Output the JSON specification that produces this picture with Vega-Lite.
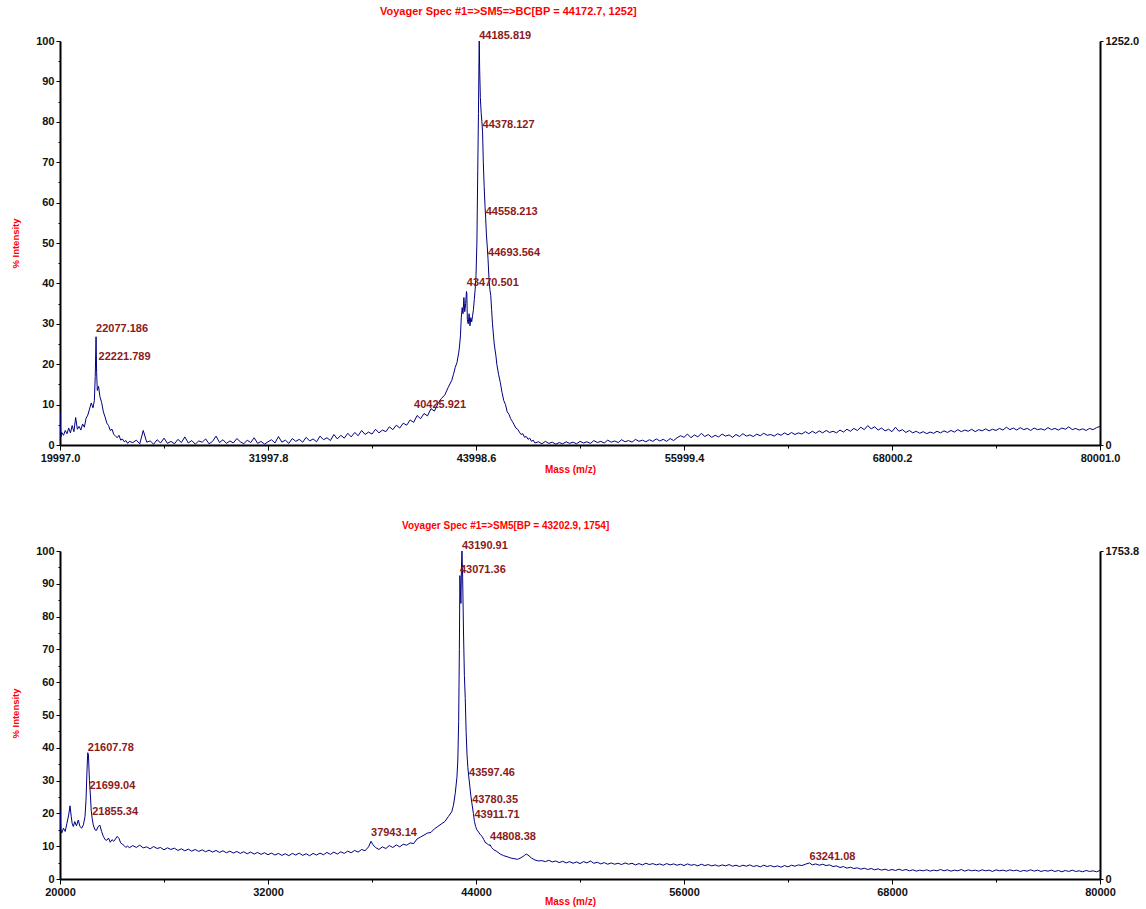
{
"$schema": "https://vega.github.io/schema/vega-lite/v6.json",
"background": "white",
"padding": {"left": 10, "top": 6, "right": 5, "bottom": 5},
"spacing": 47,
"config": {
  "view": {"stroke": null},
  "font": "Liberation Sans",
  "axis": {"domainColor": "#000000", "domainWidth": 2, "tickColor": "#000000", "tickWidth": 1, "labelColor": "#111111", "labelFont": "Liberation Sans", "labelFontSize": 11, "labelFontWeight": "bold", "labelPadding": 2, "labelFlush": false, "labelOverlap": false, "titleFont": "Liberation Sans", "titleFontWeight": "bold", "titleColor": "#ff0000", "titleFontSize": 10, "grid": false}
},
"datasets": {
"top": [
{"m":19997,"i":8.0},{"m":20050,"i":2.0},{"m":20100,"i":3.1},{"m":20200,"i":2.4},{"m":20300,"i":3.6},{"m":20400,"i":2.8},{"m":20500,"i":4.2},{"m":20600,"i":3.0},{"m":20700,"i":4.8},{"m":20800,"i":3.3},{"m":20900,"i":6.8},{"m":21000,"i":3.9},{"m":21100,"i":4.6},{"m":21200,"i":3.7},{"m":21300,"i":5.2},{"m":21400,"i":4.4},{"m":21500,"i":6.6},{"m":21600,"i":7.4},{"m":21700,"i":8.9},{"m":21800,"i":10.4},{"m":21900,"i":9.2},{"m":21980,"i":11.0},{"m":22030,"i":17.0},{"m":22077,"i":26.8},{"m":22110,"i":18.0},{"m":22150,"i":13.5},{"m":22221,"i":14.5},{"m":22300,"i":12.0},{"m":22400,"i":10.5},{"m":22500,"i":8.2},{"m":22600,"i":6.9},{"m":22700,"i":5.4},{"m":22800,"i":4.8},{"m":22900,"i":3.6},{"m":23000,"i":3.9},{"m":23100,"i":2.6},{"m":23200,"i":2.2},{"m":23300,"i":1.8},{"m":23400,"i":2.4},{"m":23500,"i":1.2},{"m":23600,"i":1.5},{"m":23700,"i":0.8},{"m":23800,"i":1.1},{"m":23900,"i":0.4},{"m":24000,"i":0.9},
{"m":24200,"i":0.6},{"m":24400,"i":1.2},{"m":24600,"i":0.3},{"m":24800,"i":3.6},{"m":25000,"i":0.7},{"m":25200,"i":1.0},{"m":25400,"i":0.2},{"m":25600,"i":1.3},{"m":25800,"i":0.5},{"m":26000,"i":1.7},{"m":26200,"i":0.4},{"m":26400,"i":0.9},{"m":26600,"i":0.3},{"m":26800,"i":1.4},{"m":27000,"i":0.6},{"m":27200,"i":2.0},{"m":27400,"i":0.5},{"m":27600,"i":1.1},{"m":27800,"i":0.2},{"m":28000,"i":1.0},{"m":28200,"i":0.7},{"m":28400,"i":1.5},{"m":28600,"i":0.3},{"m":28800,"i":0.9},{"m":29000,"i":2.2},{"m":29200,"i":0.6},{"m":29400,"i":1.3},{"m":29600,"i":0.4},{"m":29800,"i":1.0},{"m":30000,"i":0.5},{"m":30200,"i":1.6},{"m":30400,"i":0.8},{"m":30600,"i":0.3},{"m":30800,"i":1.2},{"m":31000,"i":0.6},{"m":31200,"i":1.8},{"m":31400,"i":0.4},{"m":31600,"i":0.9},{"m":31800,"i":0.2},{"m":32000,"i":0.8},{"m":32200,"i":1.3},{"m":32400,"i":0.5},{"m":32600,"i":2.1},{"m":32800,"i":0.7},{"m":33000,"i":1.2},{"m":33200,"i":0.4},{"m":33400,"i":1.6},{"m":33600,"i":0.9},{"m":33800,"i":1.4},{"m":34000,"i":0.7},{"m":34200,"i":1.9},{"m":34400,"i":1.0},{"m":34600,"i":1.5},{"m":34800,"i":0.8},{"m":35000,"i":2.2},{"m":35200,"i":1.3},{"m":35400,"i":1.8},{"m":35600,"i":1.1},{"m":35800,"i":2.6},{"m":36000,"i":1.5},
{"m":36200,"i":2.4},{"m":36400,"i":1.7},{"m":36600,"i":2.9},{"m":36800,"i":2.0},{"m":37000,"i":3.1},{"m":37200,"i":2.3},{"m":37400,"i":3.6},{"m":37600,"i":2.6},{"m":37800,"i":3.2},{"m":38000,"i":2.7},{"m":38200,"i":3.9},{"m":38400,"i":3.0},{"m":38600,"i":3.7},{"m":38800,"i":3.3},{"m":39000,"i":4.5},{"m":39200,"i":3.8},{"m":39400,"i":4.9},{"m":39600,"i":4.2},{"m":39800,"i":5.4},{"m":40000,"i":4.9},{"m":40200,"i":6.2},{"m":40400,"i":5.6},{"m":40600,"i":7.3},{"m":40800,"i":6.5},{"m":41000,"i":7.8},{"m":41200,"i":7.2},{"m":41400,"i":9.0},{"m":41600,"i":8.4},{"m":41800,"i":10.2},{"m":42000,"i":11.5},{"m":42200,"i":12.4},{"m":42400,"i":14.3},{"m":42600,"i":16.0},{"m":42700,"i":17.5},{"m":42800,"i":19.2},{"m":42900,"i":20.4},{"m":43000,"i":22.8},{"m":43050,"i":24.5},{"m":43100,"i":27.0},{"m":43150,"i":31.5},{"m":43200,"i":34.0},{"m":43250,"i":32.5},{"m":43300,"i":36.5},{"m":43350,"i":33.0},{"m":43400,"i":35.0},{"m":43450,"i":38.0},{"m":43470,"i":37.5},{"m":43500,"i":31.0},{"m":43550,"i":30.0},{"m":43600,"i":32.5},{"m":43650,"i":29.5},{"m":43700,"i":31.5},{"m":43750,"i":30.5},{"m":43800,"i":32.0},{"m":43850,"i":33.5},{"m":43900,"i":36.0},{"m":43950,"i":38.5},{"m":44000,"i":42.0},{"m":44050,"i":50.0},{"m":44100,"i":68.0},{"m":44140,"i":82.0},{"m":44170,"i":95.0},{"m":44186,"i":100.0},{"m":44210,"i":93.0},{"m":44250,"i":86.0},{"m":44300,"i":82.0},{"m":44340,"i":80.0},{"m":44378,"i":77.5},{"m":44420,"i":70.0},{"m":44470,"i":64.0},{"m":44520,"i":59.0},{"m":44558,"i":56.0},{"m":44600,"i":52.0},{"m":44650,"i":49.0},{"m":44693,"i":46.0},{"m":44750,"i":41.0},{"m":44800,"i":38.5},{"m":44850,"i":37.0},{"m":44900,"i":33.5},{"m":44950,"i":30.0},{"m":45000,"i":27.5},{"m":45050,"i":25.0},{"m":45100,"i":23.5},{"m":45150,"i":22.0},{"m":45200,"i":20.0},{"m":45300,"i":17.5},{"m":45400,"i":15.5},{"m":45500,"i":13.0},{"m":45600,"i":11.0},{"m":45700,"i":10.0},{"m":45800,"i":8.2},{"m":45900,"i":7.6},{"m":46000,"i":6.5},{"m":46100,"i":5.8},{"m":46200,"i":5.0},{"m":46300,"i":4.2},{"m":46400,"i":3.9},{"m":46500,"i":3.2},{"m":46600,"i":2.6},{"m":46700,"i":2.8},{"m":46800,"i":1.9},{"m":46900,"i":2.1},{"m":47000,"i":1.4},{"m":47100,"i":1.7},{"m":47200,"i":0.9},{"m":47300,"i":1.2},{"m":47400,"i":0.5},
{"m":47600,"i":0.8},{"m":47800,"i":0.3},{"m":48000,"i":0.9},{"m":48200,"i":0.4},{"m":48400,"i":0.7},{"m":48600,"i":0.2},{"m":48800,"i":0.6},{"m":49000,"i":0.3},{"m":49200,"i":0.8},{"m":49400,"i":0.4},{"m":49600,"i":0.7},{"m":49800,"i":0.3},{"m":50000,"i":0.9},{"m":50200,"i":0.5},{"m":50400,"i":0.8},{"m":50600,"i":0.4},{"m":50800,"i":1.1},{"m":51000,"i":0.6},{"m":51200,"i":0.9},{"m":51400,"i":0.5},{"m":51600,"i":1.2},{"m":51800,"i":0.7},{"m":52000,"i":1.0},{"m":52200,"i":0.6},{"m":52400,"i":1.3},{"m":52600,"i":0.8},{"m":52800,"i":1.1},{"m":53000,"i":0.7},{"m":53200,"i":1.4},{"m":53400,"i":0.9},{"m":53600,"i":1.2},{"m":53800,"i":0.8},{"m":54000,"i":1.3},{"m":54200,"i":0.9},{"m":54400,"i":1.5},{"m":54600,"i":1.0},{"m":54800,"i":1.4},{"m":55000,"i":0.9},{"m":55200,"i":1.6},{"m":55400,"i":1.1},{"m":55600,"i":1.8},{"m":55800,"i":2.3},{"m":56000,"i":1.9},{"m":56200,"i":2.7},{"m":56400,"i":1.8},{"m":56600,"i":2.5},{"m":56800,"i":2.0},{"m":57000,"i":2.9},{"m":57200,"i":2.1},{"m":57400,"i":2.6},{"m":57600,"i":1.9},{"m":57800,"i":2.4},{"m":58000,"i":2.0},{"m":58200,"i":2.7},{"m":58400,"i":2.2},{"m":58600,"i":2.5},{"m":58800,"i":1.9},{"m":59000,"i":2.6},{"m":59200,"i":2.1},{"m":59400,"i":2.8},{"m":59600,"i":2.2},{"m":59800,"i":2.5},{"m":60000,"i":2.1},{"m":60200,"i":2.7},{"m":60400,"i":2.3},{"m":60600,"i":2.9},{"m":60800,"i":2.4},{"m":61000,"i":2.6},{"m":61200,"i":2.2},{"m":61400,"i":2.8},{"m":61600,"i":2.4},{"m":61800,"i":3.0},{"m":62000,"i":2.5},{"m":62200,"i":3.1},{"m":62400,"i":2.6},{"m":62600,"i":3.0},{"m":62800,"i":2.7},{"m":63000,"i":3.3},{"m":63200,"i":2.8},{"m":63400,"i":3.4},{"m":63600,"i":2.9},{"m":63800,"i":3.5},{"m":64000,"i":3.0},{"m":64200,"i":3.6},{"m":64400,"i":3.1},{"m":64600,"i":3.4},{"m":64800,"i":3.0},{"m":65000,"i":3.7},{"m":65200,"i":3.2},{"m":65400,"i":3.9},{"m":65600,"i":3.4},{"m":65800,"i":4.1},{"m":66000,"i":3.6},{"m":66200,"i":4.4},{"m":66400,"i":3.8},{"m":66600,"i":4.8},{"m":66800,"i":4.0},{"m":67000,"i":4.5},{"m":67200,"i":3.7},{"m":67400,"i":4.2},{"m":67600,"i":3.5},{"m":67800,"i":3.9},{"m":68000,"i":3.3},{"m":68200,"i":4.4},{"m":68400,"i":3.4},{"m":68600,"i":3.8},{"m":68800,"i":3.1},{"m":69000,"i":3.6},{"m":69200,"i":3.0},{"m":69400,"i":3.4},{"m":69600,"i":2.9},{"m":69800,"i":3.3},{"m":70000,"i":2.8},{"m":70200,"i":3.2},{"m":70400,"i":2.9},{"m":70600,"i":3.4},{"m":70800,"i":3.0},{"m":71000,"i":3.5},{"m":71200,"i":3.1},{"m":71400,"i":3.6},{"m":71600,"i":3.2},{"m":71800,"i":3.8},{"m":72000,"i":3.3},{"m":72200,"i":3.7},{"m":72400,"i":3.4},{"m":72600,"i":3.9},{"m":72800,"i":3.3},{"m":73000,"i":3.8},{"m":73200,"i":3.5},{"m":73400,"i":4.0},{"m":73600,"i":3.5},{"m":73800,"i":3.9},{"m":74000,"i":3.6},{"m":74200,"i":4.1},{"m":74400,"i":3.7},{"m":74600,"i":4.4},{"m":74800,"i":3.8},{"m":75000,"i":4.2},{"m":75200,"i":3.7},{"m":75400,"i":4.3},{"m":75600,"i":3.8},{"m":75800,"i":4.1},{"m":76000,"i":3.6},{"m":76200,"i":4.2},{"m":76400,"i":3.8},{"m":76600,"i":4.0},{"m":76800,"i":3.7},{"m":77000,"i":4.3},{"m":77200,"i":3.8},{"m":77400,"i":4.1},{"m":77600,"i":3.7},{"m":77800,"i":4.2},{"m":78000,"i":3.9},{"m":78200,"i":4.5},{"m":78400,"i":3.8},{"m":78600,"i":4.1},{"m":78800,"i":3.7},{"m":79000,"i":4.0},{"m":79200,"i":3.6},{"m":79400,"i":4.1},{"m":79600,"i":3.8},{"m":79800,"i":4.3},{"m":80001,"i":4.6}
],
"topLabels": [
{"m":44185.819,"i":100,"t":"44185.819"},{"m":44378.127,"i":78,"t":"44378.127"},{"m":44558.213,"i":56.4,"t":"44558.213"},{"m":44693.564,"i":46.3,"t":"44693.564"},{"m":43470.501,"i":38.9,"t":"43470.501"},{"m":22077.186,"i":27.5,"t":"22077.186"},{"m":22221.789,"i":20.5,"t":"22221.789"},{"m":40425.921,"i":8.7,"t":"40425.921"}
],
"bot": [
{"m":20000,"i":21.0},{"m":20050,"i":15.0},{"m":20100,"i":14.0},{"m":20200,"i":15.5},{"m":20300,"i":14.5},{"m":20400,"i":17.0},{"m":20500,"i":19.5},{"m":20577,"i":22.3},{"m":20650,"i":19.0},{"m":20700,"i":17.0},{"m":20769,"i":16.0},{"m":20850,"i":17.5},{"m":20950,"i":16.2},{"m":21057,"i":18.0},{"m":21150,"i":16.0},{"m":21250,"i":15.5},{"m":21350,"i":16.5},{"m":21442,"i":19.0},{"m":21500,"i":24.0},{"m":21550,"i":32.0},{"m":21600,"i":38.5},{"m":21640,"i":38.0},{"m":21699,"i":30.0},{"m":21760,"i":25.0},{"m":21800,"i":21.0},{"m":21855,"i":18.5},{"m":21920,"i":16.5},{"m":22019,"i":15.0},{"m":22100,"i":14.8},{"m":22200,"i":16.0},{"m":22300,"i":16.4},{"m":22400,"i":14.5},{"m":22500,"i":13.0},{"m":22600,"i":12.0},{"m":22700,"i":11.8},{"m":22800,"i":12.5},{"m":22900,"i":11.2},{"m":23000,"i":12.0},{"m":23100,"i":11.5},{"m":23200,"i":12.2},{"m":23300,"i":13.0},{"m":23400,"i":12.4},{"m":23500,"i":11.0},{"m":23600,"i":10.6},{"m":23700,"i":10.2},{"m":23800,"i":9.6},{"m":23900,"i":10.1},{"m":24000,"i":9.5},
{"m":24200,"i":10.2},{"m":24400,"i":9.6},{"m":24600,"i":10.3},{"m":24800,"i":9.5},{"m":25000,"i":9.8},{"m":25200,"i":9.2},{"m":25400,"i":9.9},{"m":25600,"i":9.3},{"m":25800,"i":9.6},{"m":26000,"i":8.9},{"m":26200,"i":9.5},{"m":26400,"i":9.0},{"m":26600,"i":9.4},{"m":26800,"i":8.7},{"m":27000,"i":9.2},{"m":27200,"i":8.6},{"m":27400,"i":9.1},{"m":27600,"i":8.5},{"m":27800,"i":9.0},{"m":28000,"i":8.4},{"m":28200,"i":8.9},{"m":28400,"i":8.3},{"m":28600,"i":8.8},{"m":28800,"i":8.2},{"m":29000,"i":8.7},{"m":29200,"i":8.1},{"m":29400,"i":8.6},{"m":29600,"i":8.0},{"m":29800,"i":8.5},{"m":30000,"i":7.9},{"m":30200,"i":8.4},{"m":30400,"i":7.8},{"m":30600,"i":8.3},{"m":30800,"i":7.7},{"m":31000,"i":8.2},{"m":31200,"i":7.6},{"m":31400,"i":8.1},{"m":31600,"i":7.5},{"m":31800,"i":8.0},{"m":32000,"i":7.4},{"m":32200,"i":7.9},{"m":32400,"i":7.3},{"m":32600,"i":7.8},{"m":32800,"i":7.2},{"m":33000,"i":7.7},{"m":33200,"i":7.1},{"m":33400,"i":7.8},{"m":33600,"i":7.3},{"m":33800,"i":7.9},{"m":34000,"i":7.2},{"m":34200,"i":7.7},{"m":34400,"i":7.1},{"m":34600,"i":7.8},{"m":34800,"i":7.3},{"m":35000,"i":7.9},{"m":35200,"i":7.4},{"m":35400,"i":8.1},{"m":35600,"i":7.5},{"m":35800,"i":8.2},{"m":36000,"i":7.6},{"m":36200,"i":8.3},{"m":36400,"i":7.8},{"m":36600,"i":8.5},{"m":36800,"i":8.0},{"m":37000,"i":8.7},{"m":37200,"i":8.2},{"m":37400,"i":9.0},{"m":37600,"i":8.6},{"m":37800,"i":9.8},{"m":37943,"i":11.5},{"m":38050,"i":10.5},{"m":38200,"i":9.6},{"m":38400,"i":9.0},{"m":38600,"i":9.8},{"m":38800,"i":9.3},{"m":39000,"i":10.2},{"m":39200,"i":9.6},{"m":39400,"i":10.4},{"m":39600,"i":9.8},{"m":39800,"i":10.6},{"m":40000,"i":10.3},{"m":40200,"i":11.0},{"m":40400,"i":10.8},{"m":40600,"i":12.2},{"m":40800,"i":12.8},{"m":41000,"i":13.4},{"m":41200,"i":14.0},{"m":41400,"i":14.2},{"m":41600,"i":15.3},{"m":41800,"i":16.0},{"m":42000,"i":16.8},{"m":42200,"i":17.5},{"m":42400,"i":19.0},{"m":42600,"i":20.5},{"m":42700,"i":22.5},{"m":42800,"i":26.0},{"m":42900,"i":31.0},{"m":42950,"i":36.0},{"m":43000,"i":48.0},{"m":43040,"i":70.0},{"m":43071,"i":92.5},{"m":43100,"i":88.0},{"m":43130,"i":84.0},{"m":43160,"i":95.0},{"m":43191,"i":100.0},{"m":43230,"i":92.0},{"m":43280,"i":75.0},{"m":43330,"i":62.0},{"m":43380,"i":55.0},{"m":43430,"i":45.0},{"m":43480,"i":38.0},{"m":43530,"i":34.0},{"m":43597,"i":30.5},{"m":43650,"i":28.0},{"m":43700,"i":25.5},{"m":43780,"i":22.5},{"m":43850,"i":20.0},{"m":43911,"i":17.5},{"m":43980,"i":16.0},{"m":44050,"i":15.0},{"m":44150,"i":14.3},{"m":44250,"i":13.5},{"m":44350,"i":13.0},{"m":44450,"i":12.0},{"m":44550,"i":11.0},{"m":44650,"i":10.8},{"m":44750,"i":10.2},{"m":44808,"i":10.5},{"m":44900,"i":9.6},{"m":45000,"i":9.0},{"m":45200,"i":8.4},{"m":45400,"i":7.6},{"m":45600,"i":7.1},{"m":45800,"i":6.8},{"m":46000,"i":6.4},{"m":46200,"i":6.2},{"m":46400,"i":6.0},{"m":46600,"i":6.5},{"m":46800,"i":7.2},{"m":46900,"i":7.6},{"m":47000,"i":7.3},{"m":47200,"i":6.4},{"m":47400,"i":5.8},{"m":47600,"i":5.5},{"m":47800,"i":5.6},{"m":48000,"i":5.3},{"m":48200,"i":5.7},{"m":48400,"i":5.2},{"m":48600,"i":5.5},{"m":48800,"i":5.0},{"m":49000,"i":5.4},{"m":49200,"i":4.9},{"m":49400,"i":5.3},{"m":49600,"i":4.8},{"m":49800,"i":5.2},{"m":50000,"i":4.7},{"m":50200,"i":5.3},{"m":50400,"i":4.9},{"m":50600,"i":5.5},{"m":50800,"i":4.8},{"m":51000,"i":5.1},{"m":51200,"i":4.6},{"m":51400,"i":5.0},{"m":51600,"i":4.5},{"m":51800,"i":4.9},{"m":52000,"i":4.5},{"m":52200,"i":4.8},{"m":52400,"i":4.4},{"m":52600,"i":4.9},{"m":52800,"i":4.5},{"m":53000,"i":4.8},{"m":53200,"i":4.3},{"m":53400,"i":4.7},{"m":53600,"i":4.3},{"m":53800,"i":4.8},{"m":54000,"i":4.4},{"m":54200,"i":4.7},{"m":54400,"i":4.3},{"m":54600,"i":4.6},{"m":54800,"i":4.2},{"m":55000,"i":4.7},{"m":55200,"i":4.3},{"m":55400,"i":4.6},{"m":55600,"i":4.2},{"m":55800,"i":4.5},{"m":56000,"i":4.1},{"m":56200,"i":4.6},{"m":56400,"i":4.2},{"m":56600,"i":4.4},{"m":56800,"i":4.0},{"m":57000,"i":4.5},{"m":57200,"i":4.1},{"m":57400,"i":4.4},{"m":57600,"i":4.0},{"m":57800,"i":4.3},{"m":58000,"i":3.9},{"m":58200,"i":4.3},{"m":58400,"i":4.0},{"m":58600,"i":4.4},{"m":58800,"i":3.9},{"m":59000,"i":4.2},{"m":59200,"i":3.8},{"m":59400,"i":4.2},{"m":59600,"i":3.9},{"m":59800,"i":4.3},{"m":60000,"i":3.8},{"m":60200,"i":4.1},{"m":60400,"i":3.7},{"m":60600,"i":4.2},{"m":60800,"i":3.8},{"m":61000,"i":4.1},{"m":61200,"i":3.7},{"m":61400,"i":4.0},{"m":61600,"i":3.6},{"m":61800,"i":4.1},{"m":62000,"i":3.7},{"m":62200,"i":4.2},{"m":62400,"i":3.9},{"m":62600,"i":4.3},{"m":62800,"i":4.1},{"m":63000,"i":4.5},{"m":63241,"i":4.9},{"m":63400,"i":4.3},{"m":63600,"i":4.6},{"m":63800,"i":4.2},{"m":64000,"i":4.5},{"m":64200,"i":4.1},{"m":64400,"i":4.3},{"m":64600,"i":3.8},{"m":64800,"i":4.0},{"m":65000,"i":3.5},{"m":65200,"i":3.8},{"m":65400,"i":3.3},{"m":65600,"i":3.6},{"m":65800,"i":3.2},{"m":66000,"i":3.4},{"m":66200,"i":3.0},{"m":66400,"i":3.3},{"m":66600,"i":2.9},{"m":66800,"i":3.2},{"m":67000,"i":2.8},{"m":67200,"i":3.1},{"m":67400,"i":2.7},{"m":67600,"i":3.0},{"m":67800,"i":2.6},{"m":68000,"i":2.9},{"m":68200,"i":2.6},{"m":68400,"i":3.0},{"m":68600,"i":2.6},{"m":68800,"i":2.9},{"m":69000,"i":2.5},{"m":69200,"i":2.8},{"m":69400,"i":2.4},{"m":69600,"i":2.7},{"m":69800,"i":2.5},{"m":70000,"i":2.8},{"m":70200,"i":2.4},{"m":70400,"i":2.7},{"m":70600,"i":2.5},{"m":70800,"i":2.9},{"m":71000,"i":2.5},{"m":71200,"i":2.8},{"m":71400,"i":2.4},{"m":71600,"i":2.7},{"m":71800,"i":2.5},{"m":72000,"i":2.9},{"m":72200,"i":2.4},{"m":72400,"i":2.8},{"m":72600,"i":2.5},{"m":72800,"i":2.7},{"m":73000,"i":2.4},{"m":73200,"i":2.8},{"m":73400,"i":2.5},{"m":73600,"i":2.7},{"m":73800,"i":2.3},{"m":74000,"i":2.8},{"m":74200,"i":2.5},{"m":74400,"i":2.7},{"m":74600,"i":2.4},{"m":74800,"i":2.8},{"m":75000,"i":2.5},{"m":75200,"i":2.7},{"m":75400,"i":2.3},{"m":75600,"i":2.6},{"m":75800,"i":2.4},{"m":76000,"i":2.8},{"m":76200,"i":2.4},{"m":76400,"i":2.7},{"m":76600,"i":2.3},{"m":76800,"i":2.6},{"m":77000,"i":2.4},{"m":77200,"i":2.7},{"m":77400,"i":2.3},{"m":77600,"i":2.6},{"m":77800,"i":2.2},{"m":78000,"i":2.6},{"m":78200,"i":2.3},{"m":78400,"i":2.7},{"m":78600,"i":2.3},{"m":78800,"i":2.5},{"m":79000,"i":2.2},{"m":79200,"i":2.6},{"m":79400,"i":2.3},{"m":79600,"i":2.5},{"m":79800,"i":2.2},{"m":80000,"i":2.6}
],
"botLabels": [
{"m":43190.91,"i":100,"t":"43190.91"},{"m":43071.36,"i":92.7,"t":"43071.36"},{"m":43597.46,"i":30.8,"t":"43597.46"},{"m":43780.35,"i":22.6,"t":"43780.35"},{"m":43911.71,"i":18.0,"t":"43911.71"},{"m":44808.38,"i":11.3,"t":"44808.38"},{"m":37943.14,"i":12.5,"t":"37943.14"},{"m":63241.08,"i":5.2,"t":"63241.08"},{"m":21607.78,"i":38.4,"t":"21607.78"},{"m":21699.04,"i":26.8,"t":"21699.04"},{"m":21855.34,"i":18.9,"t":"21855.34"}
]
},
"vconcat": [
{
  "width": 1040, "height": 404,
  "title": {"text": "Voyager Spec #1=>SM5=>BC[BP = 44172.7, 1252]", "anchor": "start", "frame": "group", "dx": 320, "offset": 13, "color": "#ff0000", "fontSize": 11, "fontWeight": "bold", "font": "Liberation Sans"},
  "layer": [
    {
      "encoding": {
        "x": {"field": "m", "type": "quantitative", "scale": {"domain": [19997, 80001], "nice": false, "zero": false},
              "axis": {"title": "Mass (m/z)", "values": [19997, 25997.4, 31997.8, 37998.2, 43998.6, 49999, 55999.4, 61999.8, 68000.2, 74000.6, 80001],
                       "labelExpr": "abs((datum.value-19997)/12000.8 - round((datum.value-19997)/12000.8)) < 0.01 ? format(datum.value, '.1f') : ''",
                       "tickSize": {"condition": {"test": "abs((datum.value-19997)/12000.8 - round((datum.value-19997)/12000.8)) < 0.01", "value": 5}, "value": 3},
                       "titleX": 510, "titleY": 24, "titleBaseline": "middle"}},
        "y": {"field": "i", "type": "quantitative", "scale": {"domain": [0, 100], "nice": false},
              "axis": {"title": "% Intensity", "values": [0,5,10,15,20,25,30,35,40,45,50,55,60,65,70,75,80,85,90,95,100],
                       "labelExpr": "datum.value % 10 === 0 ? datum.label : ''",
                       "tickSize": {"condition": {"test": "datum.value % 10 === 0", "value": 4}, "value": 2},
                       "titleX": -45, "titleY": 202, "titleBaseline": "middle", "titleFontSize": 9.5}}
      },
      "layer": [
        {"data": {"name": "top"}, "mark": {"type": "line", "color": "#000080", "strokeWidth": 1, "clip": true}},
        {"data": {"name": "topLabels"}, "mark": {"type": "text", "align": "left", "baseline": "bottom", "color": "#8b1a1a", "fontSize": 11, "fontWeight": "bold", "font": "Liberation Sans"},
         "encoding": {"text": {"field": "t"}}}
      ]
    },
    {
      "data": {"values": [{}]},
      "mark": {"type": "rule", "opacity": 0},
      "encoding": {"y": {"datum": 0, "type": "quantitative", "scale": {"domain": [0, 1252], "nice": false},
                         "axis": {"orient": "right", "title": null, "values": [0, 1252], "tickSize": 3,
                                  "labelExpr": "datum.value === 0 ? '0' : format(datum.value, '.1f')"}}}
    }
  ],
  "resolve": {"scale": {"y": "independent"}}
},
{
  "width": 1040, "height": 328,
  "title": {"text": "Voyager Spec #1=>SM5[BP = 43202.9, 1754]", "anchor": "start", "frame": "group", "dx": 342, "offset": 9, "color": "#ff0000", "fontSize": 10, "fontWeight": "bold", "font": "Liberation Sans"},
  "layer": [
    {
      "encoding": {
        "x": {"field": "m", "type": "quantitative", "scale": {"domain": [20000, 80000], "nice": false, "zero": false},
              "axis": {"title": "Mass (m/z)", "values": [20000, 26000, 32000, 38000, 44000, 50000, 56000, 62000, 68000, 74000, 80000],
                       "labelExpr": "(datum.value - 20000) % 12000 === 0 ? format(datum.value, 'd') : ''",
                       "tickSize": {"condition": {"test": "(datum.value - 20000) % 12000 === 0", "value": 5}, "value": 3},
                       "titleX": 510, "titleY": 22, "titleBaseline": "middle"}},
        "y": {"field": "i", "type": "quantitative", "scale": {"domain": [0, 100], "nice": false},
              "axis": {"title": "% Intensity", "values": [0,5,10,15,20,25,30,35,40,45,50,55,60,65,70,75,80,85,90,95,100],
                       "labelExpr": "datum.value % 10 === 0 ? datum.label : ''",
                       "tickSize": {"condition": {"test": "datum.value % 10 === 0", "value": 4}, "value": 2},
                       "titleX": -45, "titleY": 162, "titleBaseline": "middle", "titleFontSize": 9.5}}
      },
      "layer": [
        {"data": {"name": "bot"}, "mark": {"type": "line", "color": "#000080", "strokeWidth": 1, "clip": true}},
        {"data": {"name": "botLabels"}, "mark": {"type": "text", "align": "left", "baseline": "bottom", "color": "#8b1a1a", "fontSize": 11, "fontWeight": "bold", "font": "Liberation Sans"},
         "encoding": {"text": {"field": "t"}}}
      ]
    },
    {
      "data": {"values": [{}]},
      "mark": {"type": "rule", "opacity": 0},
      "encoding": {"y": {"datum": 0, "type": "quantitative", "scale": {"domain": [0, 1753.8], "nice": false},
                         "axis": {"orient": "right", "title": null, "values": [0, 1753.8], "tickSize": 3,
                                  "labelExpr": "datum.value === 0 ? '0' : format(datum.value, '.1f')"}}}
    }
  ],
  "resolve": {"scale": {"y": "independent"}}
}
]
}
